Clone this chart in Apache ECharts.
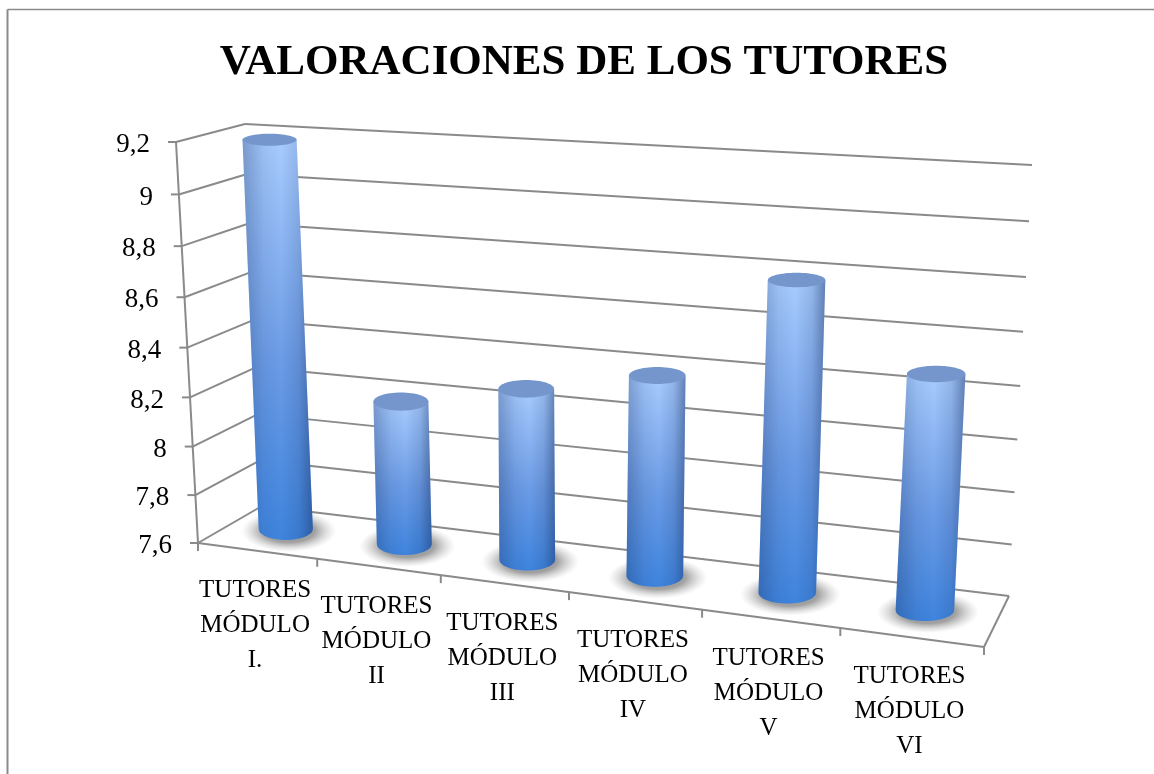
<!DOCTYPE html>
<html>
<head>
<meta charset="utf-8">
<style>
  html, body { margin: 0; padding: 0; background: #fff; }
  #chart { width: 1154px; height: 774px; }
</style>
<script src="https://cdn.jsdelivr.net/npm/echarts@6/dist/echarts.min.js"></script>
</head>
<body>
<div id="chart"></div>
<script>
const categories = ['TUTORES\nMÓDULO\nI.', 'TUTORES\nMÓDULO\nII', 'TUTORES\nMÓDULO\nIII', 'TUTORES\nMÓDULO\nIV', 'TUTORES\nMÓDULO\nV', 'TUTORES\nMÓDULO\nVI'];
const values = [9.19, 8.2, 8.3, 8.4, 8.8, 8.5];
const yTicks = [7.6, 7.8, 8, 8.2, 8.4, 8.6, 8.8, 9, 9.2];
const yTickLabels = ['7,6', '7,8', '8', '8,2', '8,4', '8,6', '8,8', '9', '9,2'];

const FONT = '"Liberation Serif", serif';
const LINE = { stroke: '#8a8a8a', lineWidth: 2 };

// corners of the 3D box on screen
const box = {
  frontBL: [198, 543], frontBR: [984, 647], frontTL: [176, 142], frontTR: [1010, 197],
  backBL: [262, 506], backBR: [1009, 596], backTL: [245, 124], backTR: [1032, 165],
};

const lerp = (a, b, t) => [a[0] + (b[0] - a[0]) * t, a[1] + (b[1] - a[1]) * t];

// perspective foreshortening, w < 1 squeezes the start of the range
const warp = (t, w) => (t * w) / (1 + (w - 1) * t);

// grid position (u, h in 0..1) plus depth d -> screen point
const project = (u, h, d) => {
  const f = warp(u, 0.894);
  const g = warp(h, 0.95);
  const front = lerp(lerp(box.frontBL, box.frontBR, f), lerp(box.frontTL, box.frontTR, f), g);
  const back = lerp(lerp(box.backBL, box.backBR, f), lerp(box.backTL, box.backTR, f), g);
  return lerp(front, back, d);
};

const gridPos = (params, api, x, y) => {
  const rect = params.coordSys;
  const p = api.coord([x, y]);
  return { u: (p[0] - rect.x) / rect.width, h: (rect.y + rect.height - p[1]) / rect.height };
};

const line = (a, b) => ({
  type: 'line',
  shape: { x1: a[0], y1: a[1], x2: b[0], y2: b[1] },
  style: LINE,
});

// side walls: one gridline pair and one label per tick
const renderWall = (params, api) => {
  const { h } = gridPos(params, api, 0, api.value(1));
  const front = project(0, h, 0);
  const corner = project(0, h, 1);
  const right = project(1, h, 1);
  return {
    type: 'group',
    children: [
      line(front, corner),
      line(corner, right),
      line(front, [front[0] - 8, front[1]]),
      {
        type: 'text',
        style: {
          text: yTickLabels[params.dataIndex],
          x: front[0] - 26,
          y: front[1] + 3,
          align: 'right',
          verticalAlign: 'middle',
          font: '27px ' + FONT,
          fill: '#000',
        },
      },
    ],
  };
};

// floor edges and the slanted value axis line
const renderFrame = () => {
  const p = project;
  return {
    type: 'group',
    children: [
      line(p(0, 1, 0), p(0, 0, 0)),
      line(p(0, 0, 0), p(1, 0, 0)),
      line(p(1, 0, 0), p(1, 0, 1)),
      line(p(0, 0, 0), [p(0, 0, 0)[0], p(0, 0, 0)[1] + 8]),
    ],
  };
};

// category ticks and labels along the front edge of the floor
const renderCategory = (params, api) => {
  const idx = api.value(0);
  const rect = params.coordSys;
  const band = api.size([1, 0])[0];
  const { u } = gridPos(params, api, idx, yTicks[0]);
  const mid = project(u, 0, 0);
  const end = project(u + band / rect.width / 2, 0, 0);
  return {
    type: 'group',
    children: [
      line(end, [end[0], end[1] + 8]),
      {
        type: 'text',
        style: {
          text: categories[idx],
          x: mid[0] - 2,
          y: mid[1] + 22,
          align: 'center',
          verticalAlign: 'top',
          font: '25px ' + FONT,
          lineHeight: 35,
          fill: '#000',
        },
      },
    ],
  };
};

// cylinder between the floor and the bar value
const renderBar = (params, api) => {
  const { u, h } = gridPos(params, api, api.value(0), api.value(1));
  const band = api.size([1, 0])[0];
  const rx = band * (0.205 + 0.02 * warp(u, 0.894));
  const base = project(u, 0, 0.47);
  base[1] -= 4;
  const top = project(u, h, 0.47);
  const ryBase = 11;
  const ryTop = 11 - 5 * h;

  const outline = [[top[0] - rx, top[1]], [top[0] + rx, top[1]]];
  for (let i = 0; i <= 32; i++) {
    const a = (Math.PI * i) / 32;
    outline.push([base[0] + rx * Math.cos(a), base[1] + ryBase * Math.sin(a)]);
  }

  return {
    type: 'group',
    children: [
      {
        // soft floor shadow, a stretched circle so the gradient follows the ellipse
        type: 'circle',
        x: base[0] + 3,
        y: base[1] + 2,
        scaleX: (rx * 1.75) / 21,
        shape: { cx: 0, cy: 0, r: 21 },
        style: {
          fill: new echarts.graphic.RadialGradient(0.5, 0.5, 0.5, [
            { offset: 0, color: 'rgba(90,90,90,0.7)' },
            { offset: 0.55, color: 'rgba(100,100,100,0.6)' },
            { offset: 0.8, color: 'rgba(130,130,130,0.25)' },
            { offset: 1, color: 'rgba(160,160,160,0)' },
          ]),
        },
      },
      {
        type: 'polygon',
        shape: { points: outline },
        style: {
          fill: new echarts.graphic.LinearGradient(0, 0, 0, 1, [
            { offset: 0, color: '#a8ccff' },
            { offset: 0.55, color: '#6c9ce6' },
            { offset: 1, color: '#3e84de' },
          ]),
        },
      },
      {
        type: 'polygon',
        shape: { points: outline },
        style: {
          fill: new echarts.graphic.LinearGradient(0, 0, 1, 0, [
            { offset: 0, color: 'rgba(25,50,100,0.32)' },
            { offset: 0.3, color: 'rgba(25,50,100,0.08)' },
            { offset: 0.55, color: 'rgba(25,50,100,0)' },
            { offset: 0.8, color: 'rgba(25,50,100,0.14)' },
            { offset: 1, color: 'rgba(25,50,100,0.48)' },
          ]),
        },
      },
      {
        type: 'ellipse',
        shape: { cx: top[0], cy: top[1], rx: rx, ry: ryTop },
        style: { fill: '#7596cc' },
      },
    ],
  };
};

const myChart = echarts.init(document.getElementById('chart'));

myChart.setOption({
  animation: false,
  backgroundColor: '#fff',
  title: {
    text: 'VALORACIONES DE LOS TUTORES',
    left: 579,
    top: 36,
    textAlign: 'center',
    textStyle: { fontFamily: FONT, fontWeight: 'bold', fontSize: 43, color: '#000' },
  },
  grid: { left: 198, top: 142, width: 786, height: 401 },
  xAxis: { type: 'category', data: categories, show: false },
  yAxis: { type: 'value', min: 7.6, max: 9.2, interval: 0.2, show: false },
  graphic: [
    { type: 'line', shape: { x1: 7.5, y1: 9.5, x2: 1154, y2: 9.5 }, style: { stroke: '#8a8a8a', lineWidth: 1.5 } },
    { type: 'line', shape: { x1: 7.5, y1: 9.5, x2: 7.5, y2: 774 }, style: { stroke: '#8a8a8a', lineWidth: 2 } },
  ],
  series: [
    { type: 'custom', name: 'walls', renderItem: renderWall, data: yTicks.map((v) => [0, v]), encode: { x: 0, y: 1 }, silent: true },
    { type: 'custom', name: 'frame', renderItem: renderFrame, data: [[0, yTicks[0]]], encode: { x: 0, y: 1 }, silent: true },
    { type: 'custom', name: 'categories', renderItem: renderCategory, data: categories.map((c, i) => [i, yTicks[0]]), encode: { x: 0, y: 1 }, silent: true },
    { type: 'custom', name: 'valoraciones', renderItem: renderBar, data: values.map((v, i) => [i, v]), encode: { x: 0, y: 1 } },
  ],
});
</script>
</body>
</html>
